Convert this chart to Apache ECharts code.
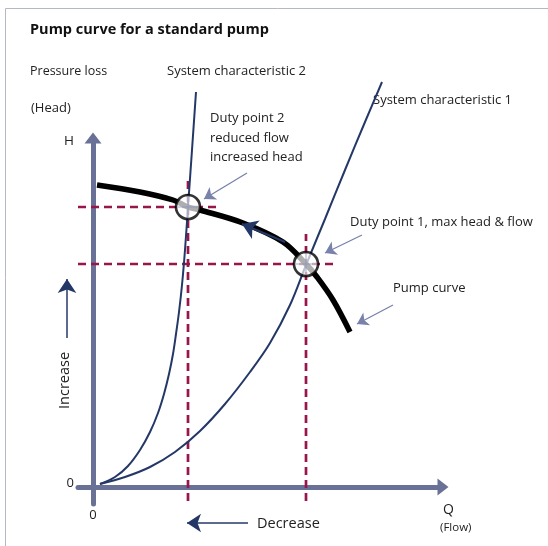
<!DOCTYPE html>
<html>
<head>
<meta charset="utf-8">
<title>Pump curve for a standard pump</title>
<script src="https://cdn.jsdelivr.net/npm/echarts@6/dist/echarts.min.js"></script>
<style>
  html, body { margin: 0; padding: 0; background: #ffffff; }
  #chart { width: 548px; height: 546px; }
</style>
</head>
<body>
<div id="chart"></div>
<script>
// Pump curve (flow Q vs head H), in arbitrary schematic units
const pumpQ = [4, 47, 80, 95, 107, 150, 190, 213, 224, 240, 257];
const pumpH = [302, 295, 287, 280, 277, 264, 245, 223, 210, 187, 155];

// System characteristic 1 (open system)
const sys1Q = [7, 32, 57, 82, 107, 132, 157, 177, 197, 213, 232, 252, 272, 289];
const sys1H = [3, 10, 20, 35, 56, 83, 115, 144, 182, 222, 268, 317, 365, 405];

// System characteristic 2 (throttled system)
const sys2Q = [7, 22, 35, 47, 57, 65, 71, 76, 80, 83, 86, 89, 92, 95, 99, 103];
const sys2H = [3, 10, 21, 37, 55, 74, 93, 113, 133, 153, 175, 202, 237, 280, 337, 395];

// Duty points: [duty point 2, duty point 1]
const dutyQ = [95, 213];
const dutyH = [280, 223];

// Axis value labels
const originLabel = '0';

const zip = (a, b) => a.map((v, i) => [v, b[i]]);

const AXIS = '#6a7196';
const NAVY = '#243867';
const GUIDE = '#99164a';
const NOTE = '#7882aa';
const FONT = '"Open Sans", "Noto Sans", sans-serif';
const TXT = '#222222';

const qMin = -15, qMax = 350, hMin = -17, hMax = 349;

// Dashed guide lines from each duty point to the axes
const guides = [];
dutyQ.forEach((q, i) => {
  const h = dutyH[i];
  guides.push([[qMin, h], [q + 28, h]]);
  guides.push([[q, hMin + 3], [q, h + 30]]);
});

const guideSeries = guides.map(seg => ({
  type: 'line',
  data: seg,
  symbol: 'none',
  silent: true,
  clip: false,
  z: 2,
  lineStyle: { color: GUIDE, width: 2.7, type: [8, 5] }
}));

// Annotation arrows (start -> tip), in data units
const noteArrows = [
  [[154, 314], [111, 288]],
  [[269, 252], [232, 234]],
  [[300, 182], [264, 163]]
];
const flowArrow = [[192, 245], [149, 263]];
const increaseArrow = [[-26, 149], [-26, 208]];
const decreaseArrow = [[155, -36], [94, -36]];

const chart = echarts.init(document.getElementById('chart'), null, { renderer: 'canvas' });

const textEl = (x, y, text, size, extra) => Object.assign({
  type: 'text',
  left: x,
  top: y,
  silent: true,
  style: { text: text, fill: TXT, font: `${size}px ${FONT}` }
}, extra || {});

const curve = (name, q, h, color, width, z) => ({
  name: name,
  type: 'line',
  data: zip(q, h),
  smooth: 0.35,
  symbol: 'none',
  clip: false,
  z: z,
  lineStyle: { color: color, width: width }
});

chart.setOption({
  animation: false,
  backgroundColor: '#ffffff',
  grid: { left: 78, right: 105, top: 138, bottom: 42 },
  xAxis: {
    type: 'value',
    min: qMin,
    max: qMax,
    splitLine: { show: false },
    axisTick: { show: false },
    axisLine: {
      onZero: true,
      symbol: ['none', 'triangle'],
      symbolSize: [17, 11],
      lineStyle: { color: AXIS, width: 5 }
    },
    axisLabel: {
      margin: 5,
      color: TXT,
      fontSize: 13,
      fontFamily: FONT,
      showMinLabel: false,
      showMaxLabel: false,
      formatter: v => (v === 0 ? originLabel : '')
    }
  },
  yAxis: {
    type: 'value',
    min: hMin,
    max: hMax,
    splitLine: { show: false },
    axisTick: { show: false },
    axisLine: {
      onZero: true,
      symbol: ['none', 'triangle'],
      symbolSize: [17, 11],
      lineStyle: { color: AXIS, width: 5 }
    },
    axisLabel: {
      margin: 4,
      color: TXT,
      fontSize: 13,
      fontFamily: FONT,
      showMinLabel: false,
      showMaxLabel: false,
      verticalAlign: 'bottom',
      lineHeight: 8,
      formatter: v => (v === 0 ? originLabel : '')
    }
  },
  series: [
    ...guideSeries,
    curve('System characteristic 2', sys2Q, sys2H, NAVY, 2, 3),
    curve('System characteristic 1', sys1Q, sys1H, NAVY, 2, 3),
    curve('Pump curve', pumpQ, pumpH, '#000000', 5.5, 4),
    {
      name: 'Duty points',
      type: 'scatter',
      data: zip(dutyQ, dutyH),
      symbol: 'circle',
      symbolSize: 24,
      z: 5,
      itemStyle: { color: 'rgba(255,255,255,0.85)', borderColor: '#000000', borderWidth: 2.6 }
    },
    {
      name: 'Duty point cross',
      type: 'scatter',
      data: zip(dutyQ, dutyH),
      symbol: 'path://M0,9.5h20v1h-20z M9.5,0h1v20h-1z',
      symbolSize: 20,
      z: 6,
      itemStyle: { color: '#8c95bb' }
    },
    {
      type: 'lines',
      coordinateSystem: 'cartesian2d',
      clip: false,
      z: 6,
      symbol: ['none', 'arrow'],
      symbolSize: [7, 11],
      lineStyle: { color: NOTE, width: 1.3, opacity: 1, curveness: 0 },
      data: noteArrows.map(c => ({ coords: c }))
    },
    {
      type: 'lines',
      coordinateSystem: 'cartesian2d',
      clip: false,
      z: 6,
      symbol: ['none', 'arrow'],
      symbolSize: [9, 15],
      lineStyle: { color: NAVY, width: 2, opacity: 1, curveness: 0 },
      data: [{ coords: flowArrow }]
    },
    {
      type: 'lines',
      coordinateSystem: 'cartesian2d',
      clip: false,
      z: 6,
      symbol: ['none', 'arrow'],
      symbolSize: [9, 14],
      lineStyle: { color: NAVY, width: 1.5, opacity: 1, curveness: 0 },
      data: [{ coords: increaseArrow }, { coords: decreaseArrow }]
    }
  ],
  graphic: [
    {
      type: 'rect',
      silent: true,
      shape: { x: 5.5, y: 8.5, width: 600, height: 600 },
      style: { fill: 'none', stroke: '#b4b8c4', lineWidth: 1 }
    },
    textEl(30, 22, '', 14.5, {
      style: { text: 'Pump curve for a standard pump', fill: '#111111', font: `bold 14.5px ${FONT}` }
    }),
    textEl(30, 65, 'Pressure loss', 12.5),
    textEl(31, 102, '(Head)', 13),
    textEl(167, 65, 'System characteristic 2', 13),
    textEl(373, 94, 'System characteristic 1', 13),
    {
      type: 'text', left: 210, top: 109, silent: true,
      style: {
        text: 'Duty point 2\nreduced flow\nincreased head',
        fill: TXT, font: `13px ${FONT}`, lineHeight: 19.5
      }
    },
    textEl(350, 216, 'Duty point 1, max head & flow', 13),
    textEl(393, 282, 'Pump curve', 13),
    textEl(64, 134, 'H', 13.5),
    textEl(443, 503, 'Q', 14),
    textEl(440, 522, '(Flow)', 11.5),
    textEl(257, 516, 'Decrease', 14.5),
    {
      type: 'text',
      silent: true,
      x: 57,
      y: 409,
      rotation: Math.PI / 2,
      style: { text: 'Increase', fill: TXT, font: `14.5px ${FONT}` }
    }
  ]
});
</script>
</body>
</html>
